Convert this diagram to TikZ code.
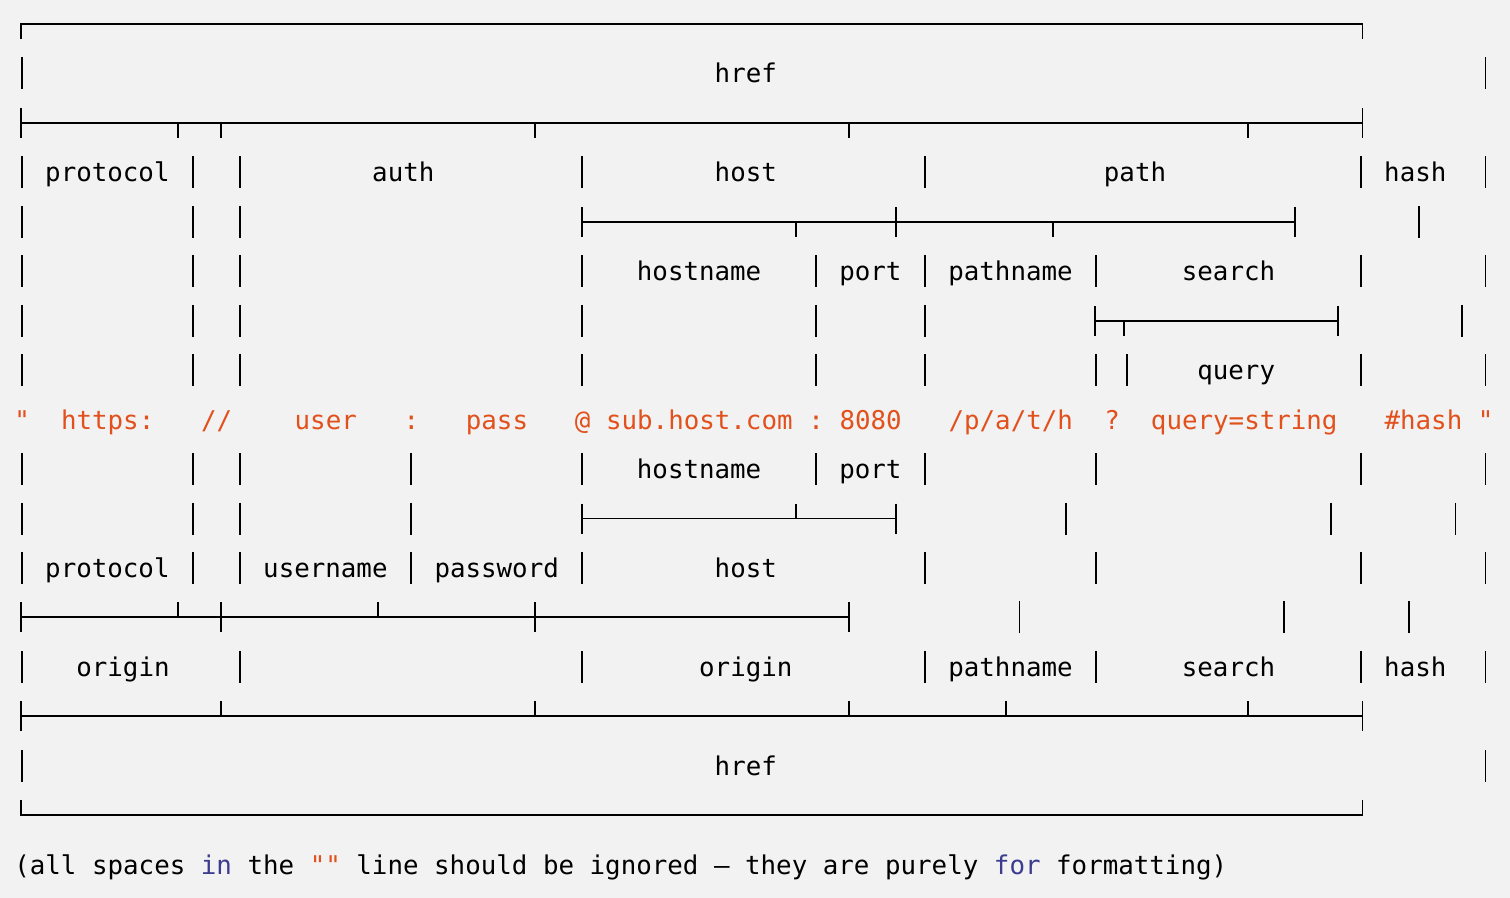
\documentclass[tikz,border=0pt]{standalone}
\usepackage{fontspec}
\setmonofont{DejaVu Sans Mono}
\definecolor{bggray}{HTML}{F2F2F2}
\definecolor{urlorange}{HTML}{E2501C}
\definecolor{keyblue}{HTML}{3B3B8F}

\begin{document}
\begin{tikzpicture}[x=0.02cm, y=-0.02cm,
bar_style/.style={draw=black, line width=1pt},
rule_style/.style={draw=black, line width=1.1pt},
label_style/.style={font={\ttfamily\fontsize{14.7}{17}\selectfont}, anchor=base, inner sep=0pt},
url_style/.style={label_style, anchor=base west, text=urlorange}]
\fill[bggray] (0,0) rectangle (1510,898);
\useasboundingbox (0,0) rectangle (1510,898);

% top href box
\draw[rule_style] (21.1,39) -- (21.1,24) -- (1362.5,24) -- (1362.5,39);
\foreach \i in {0,94} \draw[bar_style] ({21.8+15.57*\i},57.5) -- ++(0,32);
\node[label_style] (href_top) at (745.8,82.5) {href};

\draw[rule_style] (21.1,123) -- (1362.5,123);
\foreach \x in {21.1,1362.5} \draw[rule_style] (\x,108) -- ++(0,30);
\foreach \i in {11,14,36,58,86} \draw[rule_style] ({21.1+14.27*\i},123) -- ++(0,15);

% protocol / auth / host / path / hash
\foreach \i in {0,11,14,36,58,86,94} \draw[bar_style] ({21.8+15.57*\i},156.5) -- ++(0,32);
\node[label_style] (protocol_top) at (107.4,181.5) {protocol};
\node[label_style] (auth) at (403.3,181.5) {auth};
\node[label_style] (host_top) at (745.8,181.5) {host};
\node[label_style] (path) at (1135,181.5) {path};
\node[label_style] (hash_top) at (1415.3,181.5) {hash};

\foreach \i in {0,11,14} \draw[bar_style] ({21.8+15.57*\i},206) -- ++(0,32);
\draw[bar_style] (1419,206) -- ++(0,32);
\draw[rule_style] (581.6,222) -- (1295.2,222);
\foreach \x in {581.6,895.6,1295.2} \draw[rule_style] (\x,207) -- ++(0,30);
\foreach \x in {795.7,1052.6} \draw[rule_style] (\x,222) -- ++(0,15);

% hostname / port / pathname / search
\foreach \i in {0,11,14,36,51,58,69,86,94} \draw[bar_style] ({21.8+15.57*\i},255) -- ++(0,32);
\node[label_style] (hostname_top) at (699.1,280.5) {hostname};
\node[label_style] (port_top) at (870.4,280.5) {port};
\node[label_style] (pathname_top) at (1010.5,280.5) {pathname};
\node[label_style] (search_top) at (1228.5,280.5) {search};

\foreach \i in {0,11,14,36,51,58} \draw[bar_style] ({21.8+15.57*\i},305) -- ++(0,32);
\draw[bar_style] (1462,305) -- ++(0,32);
\draw[rule_style] (1095.4,321) -- (1338,321);
\foreach \x in {1095.4,1338} \draw[rule_style] (\x,306) -- ++(0,30);
\draw[rule_style] (1124,321) -- ++(0,15);

% query
\foreach \i in {0,11,14,36,51,58,69,71,86,94} \draw[bar_style] ({21.8+15.57*\i},354) -- ++(0,32);
\node[label_style] (query) at (1236.2,379.5) {query};

% the url itself
\node[url_style] (quote_open) at (14,429) {"};
\node[url_style] (url_protocol) at (60.7,429) {https:};
\node[url_style] (url_slashes) at (200.8,429) {//};
\node[url_style] (url_user) at (294.3,429) {user};
\node[url_style] (url_colon) at (403.3,429) {:};
\node[url_style] (url_pass) at (465.5,429) {pass};
\node[url_style] (url_at) at (574.5,429) {@};
\node[url_style] (url_hostname) at (605.7,429) {sub.host.com};
\node[url_style] (url_colon_port) at (808.1,429) {:};
\node[url_style] (url_port) at (839.2,429) {8080};
\node[url_style] (url_pathname) at (948.2,429) {/p/a/t/h};
\node[url_style] (url_qmark) at (1103.9,429) {?};
\node[url_style] (url_query) at (1150.6,429) {query=string};
\node[url_style] (url_hash) at (1384.2,429) {\#hash};
\node[url_style] (quote_close) at (1477.6,429) {"};

% hostname / port (lower)
\foreach \i in {0,11,14,25,36,51,58,69,86,94} \draw[bar_style] ({21.8+15.57*\i},453) -- ++(0,32);
\node[label_style] (hostname_bottom) at (699.1,478) {hostname};
\node[label_style] (port_bottom) at (870.4,478) {port};

\foreach \i in {0,11,14,25} \draw[bar_style] ({21.8+15.57*\i},502.5) -- ++(0,32);
\foreach \x in {1066.2,1331,1455.5} \draw[bar_style] (\x,502.5) -- ++(0,32);
\draw[rule_style] (581.6,518.5) -- (895.6,518.5);
\foreach \x in {581.6,895.6} \draw[rule_style] (\x,503.5) -- ++(0,30);
\draw[rule_style] (795.7,518.5) -- ++(0,-15);

% protocol / username / password / host (lower)
\foreach \i in {0,11,14,25,36,58,69,86,94} \draw[bar_style] ({21.8+15.57*\i},552) -- ++(0,32);
\node[label_style] (protocol_bottom) at (107.4,577) {protocol};
\node[label_style] (username) at (325.4,577) {username};
\node[label_style] (password) at (496.7,577) {password};
\node[label_style] (host_bottom) at (745.8,577) {host};

\draw[rule_style] (21.1,617.4) -- (848.8,617.4);
\foreach \x in {21.1,220.9,534.9,848.8} \draw[rule_style] (\x,602.4) -- ++(0,30);
\foreach \x in {178.1,377.9} \draw[rule_style] (\x,617.4) -- ++(0,-15);
\foreach \x in {1019.4,1284,1408.7} \draw[bar_style] (\x,601.4) -- ++(0,32);

% origin / pathname / search / hash (lower)
\foreach \i in {0,14,36,58,69,86,94} \draw[bar_style] ({21.8+15.57*\i},651) -- ++(0,32);
\node[label_style] (origin_left) at (123,676) {origin};
\node[label_style] (origin_right) at (745.8,676) {origin};
\node[label_style] (pathname_bottom) at (1010.5,676) {pathname};
\node[label_style] (search_bottom) at (1228.5,676) {search};
\node[label_style] (hash_bottom) at (1415.3,676) {hash};

\draw[rule_style] (21.1,716.3) -- (1362.5,716.3);
\foreach \x in {21.1,1362.5} \draw[rule_style] (\x,701.3) -- ++(0,30);
\foreach \i in {14,36,58,69,86} \draw[rule_style] ({21.1+14.27*\i},716.3) -- ++(0,-15);

% bottom href box
\foreach \i in {0,94} \draw[bar_style] ({21.8+15.57*\i},750) -- ++(0,32);
\node[label_style] (href_bottom) at (745.8,775) {href};
\draw[rule_style] (21.1,800.2) -- (21.1,815.2) -- (1362.5,815.2) -- (1362.5,800.2);

\node[label_style, anchor=base west] (note) at (14,874)
  {(all spaces \textcolor{keyblue}{in} the \textcolor{urlorange}{""} line should be ignored – they are purely \textcolor{keyblue}{for} formatting)};
\end{tikzpicture}
\end{document}
